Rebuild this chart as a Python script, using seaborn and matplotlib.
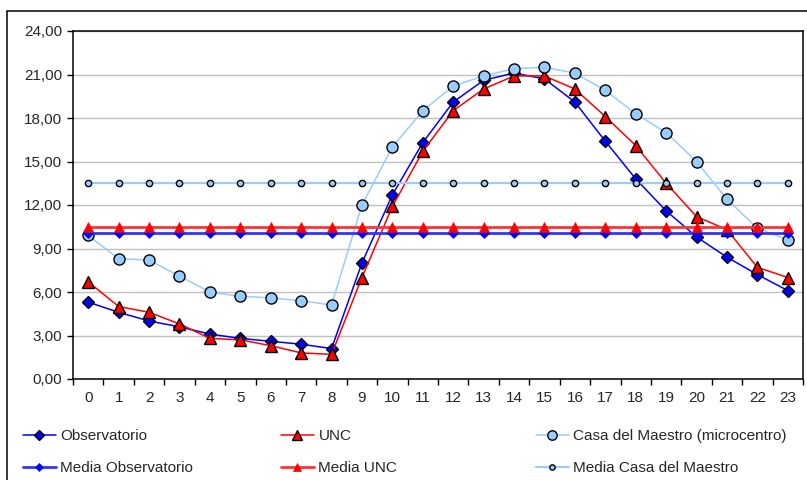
import matplotlib
matplotlib.use("Agg")
import matplotlib.pyplot as plt
import seaborn as sns
from matplotlib.patches import Rectangle
from matplotlib.lines import Line2D
from matplotlib.ticker import FuncFormatter, MultipleLocator

# Hourly temperatures (°C)
hours = list(range(24))
observatorio = [5.3, 4.6, 4.0, 3.6, 3.1, 2.8, 2.6, 2.4, 2.1, 8.0, 12.7, 16.3,
                19.1, 20.6, 21.1, 20.7, 19.1, 16.4, 13.8, 11.6, 9.8, 8.4, 7.2, 6.1]
unc = [6.7, 5.0, 4.6, 3.8, 2.8, 2.7, 2.3, 1.8, 1.7, 7.0, 11.9, 15.7,
       18.5, 20.0, 20.9, 20.9, 20.0, 18.1, 16.1, 13.5, 11.2, 10.3, 7.7, 7.0]
casa = [9.9, 8.3, 8.2, 7.1, 6.0, 5.7, 5.6, 5.4, 5.1, 12.0, 16.0, 18.5,
        20.2, 20.9, 21.4, 21.5, 21.1, 19.9, 18.3, 17.0, 15.0, 12.4, 10.4, 9.6]
media_observatorio = 10.06
media_unc = 10.48
media_casa = 13.5

names = ["Observatorio", "UNC", "Casa del Maestro (microcentro)",
         "Media Observatorio", "Media UNC", "Media Casa del Maestro"]

sns.set_style("white")
plt.rcParams["font.family"] = ["Liberation Sans", "DejaVu Sans"]

fig = plt.figure(figsize=(8.07, 4.80), dpi=100)
ax = fig.add_axes([73 / 807, 1 - 379 / 480, (803 - 73) / 807, (379 - 31) / 480])

BLUE = "#0000FF"
RED = "#FF0000"
LIGHT = "#99CCFF"

series = [
    (observatorio, dict(color=BLUE, marker="D", markersize=6.5, markerfacecolor=BLUE,
                        markeredgecolor="black", markeredgewidth=1.0, linewidth=1.1)),
    (unc, dict(color=RED, marker="^", markersize=8.5, markerfacecolor=RED,
               markeredgecolor="black", markeredgewidth=1.0, linewidth=1.1)),
    (casa, dict(color=LIGHT, marker="o", markersize=8, markerfacecolor=LIGHT,
                markeredgecolor="black", markeredgewidth=1.0, linewidth=1.1)),
    ([media_observatorio] * len(hours),
     dict(color="#3333FF", marker="D", markersize=5, markerfacecolor=BLUE,
          markeredgecolor=BLUE, markeredgewidth=0.5, linewidth=2.0)),
    ([media_unc] * len(hours),
     dict(color="#FF3333", marker="^", markersize=6.5, markerfacecolor=RED,
          markeredgecolor=RED, markeredgewidth=0.5, linewidth=2.0)),
    ([media_casa] * len(hours),
     dict(color=LIGHT, marker="o", markersize=4.5, markerfacecolor=LIGHT,
          markeredgecolor="black", markeredgewidth=1.0, linewidth=1.6)),
]

handles = []
for (vals, style), name in zip(series, names):
    sns.lineplot(x=hours, y=vals, ax=ax, legend=False, **style)
    handles.append(Line2D([0], [0], **style))

# Axes styling
ax.set_xlim(-0.5, 23.5)
ax.set_ylim(0, 24)
ax.set_xticks(hours)
ax.set_xticklabels([str(h) for h in hours])
ax.xaxis.set_minor_locator(MultipleLocator(1, offset=0.5))
ax.tick_params(axis="x", which="major", length=0, pad=9, labelsize=11)
ax.tick_params(axis="x", which="minor", length=4, width=1, direction="out", color="black", bottom=True)
ax.yaxis.set_major_locator(MultipleLocator(3))
ax.yaxis.set_major_formatter(FuncFormatter(lambda v, p: f"{v:.2f}".replace(".", ",")))
ax.tick_params(axis="y", length=4, width=1, direction="out", color="black", pad=4, labelsize=11, left=True)
ax.grid(axis="y", color="#C0C0C0", linewidth=1.0)
ax.grid(axis="x", visible=False)
ax.set_axisbelow(True)
for sp in ax.spines.values():
    sp.set_color("black")
    sp.set_linewidth(1.1)
ax.set_xlabel("")
ax.set_ylabel("")

# Legend in three columns below the plot
legend_font = dict(family=["Liberation Sans", "DejaVu Sans"], size=11)
col_x = [23 / 807, 281 / 807, 536 / 807]
for i, x0 in enumerate(col_x):
    fig.legend([handles[i], handles[i + 3]], [names[i], names[i + 3]],
               loc="upper left", bbox_to_anchor=(x0, 1 - 429 / 480),
               frameon=False, prop=legend_font, handlelength=2.15, markerscale=0.85,
               handletextpad=0.3, labelspacing=1.2, borderpad=0, borderaxespad=0)

# Chart area border
fig.add_artist(Rectangle((7 / 807, -0.1), 1.2, 1 - 11 / 480 + 0.1, transform=fig.transFigure,
                         fill=False, edgecolor="black", linewidth=1.1, clip_on=False))

fig.savefig("out.png", dpi=100)
